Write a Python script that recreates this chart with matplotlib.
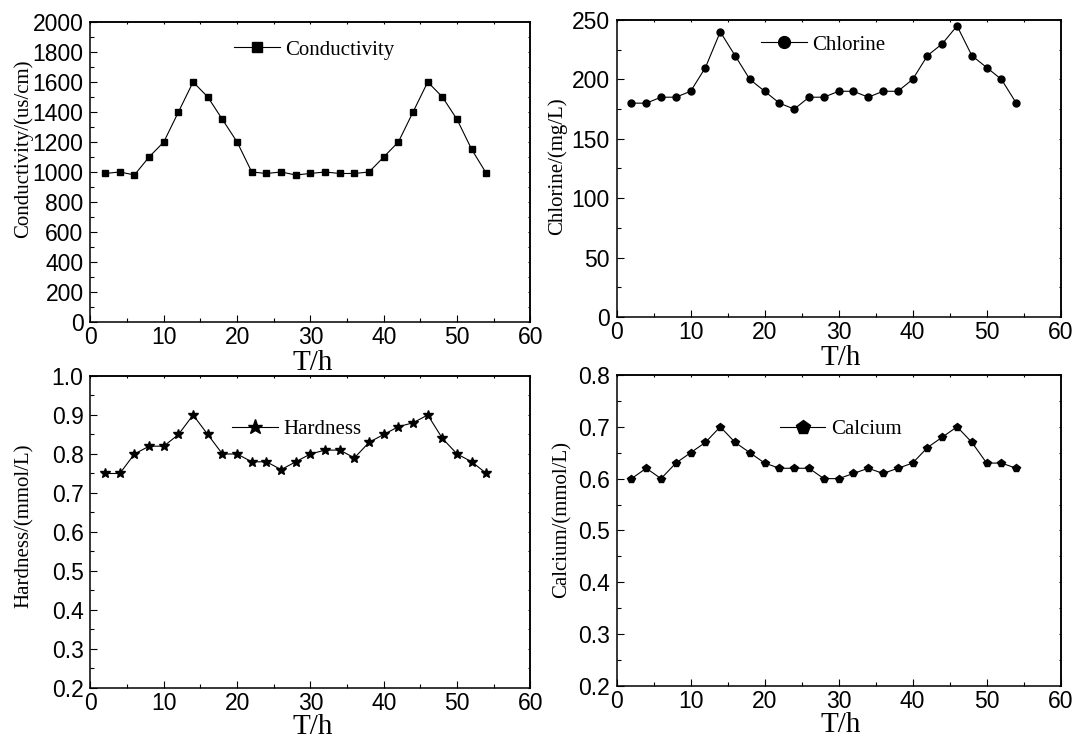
import matplotlib
matplotlib.use("Agg")
import matplotlib.pyplot as plt
from matplotlib.ticker import MultipleLocator

# Sampling times (hours)
hours = list(range(2, 56, 2))

conductivity = [990, 1000, 980, 1100, 1200, 1400, 1600, 1500, 1350, 1200,
                1000, 990, 1000, 980, 990, 1000, 990, 990, 1000, 1100,
                1200, 1400, 1600, 1500, 1350, 1150, 990]
chlorine = [180, 180, 185, 185, 190, 210, 240, 220, 200, 190,
            180, 175, 185, 185, 190, 190, 185, 190, 190, 200,
            220, 230, 245, 220, 210, 200, 180]
hardness = [0.75, 0.75, 0.80, 0.82, 0.82, 0.85, 0.90, 0.85, 0.80, 0.80,
            0.78, 0.78, 0.76, 0.78, 0.80, 0.81, 0.81, 0.79, 0.83, 0.85,
            0.87, 0.88, 0.90, 0.84, 0.80, 0.78, 0.75]
calcium = [0.60, 0.62, 0.60, 0.63, 0.65, 0.67, 0.70, 0.67, 0.65, 0.63,
           0.62, 0.62, 0.62, 0.60, 0.60, 0.61, 0.62, 0.61, 0.62, 0.63,
           0.66, 0.68, 0.70, 0.67, 0.63, 0.63, 0.62]

SANS = "Liberation Sans"
SERIF = "Liberation Serif"

fig = plt.figure(figsize=(10.73, 7.40), dpi=100)

panels = [
    dict(rect=[0.0843, 0.5649, 0.4100, 0.4054], y=conductivity, marker="s", ms=4.5,
         mscale=1.6, name="Conductivity", ylabel="Conductivity/(us/cm)",
         ylim=(0, 2000), major=200, minor=100, fmt="{:.0f}",
         leg=(0.327, 0.907), ylab_xy=(-0.153, 0.577), xlab_y=-0.094),
    dict(rect=[0.5747, 0.5716, 0.4138, 0.4014], y=chlorine, marker="o", ms=5,
         mscale=1.7, name="Chlorine", ylabel="Chlorine/(mg/L)",
         ylim=(0, 250), major=50, minor=25, fmt="{:.0f}",
         leg=(0.326, 0.916), ylab_xy=(-0.134, 0.508), xlab_y=-0.095),
    dict(rect=[0.0843, 0.0703, 0.4100, 0.4216], y=hardness, marker="*", ms=7,
         mscale=1.6, name="Hardness", ylabel="Hardness/(mmol/L)",
         ylim=(0.2, 1.0), major=0.1, minor=0.05, fmt="{:.1f}",
         leg=(0.3225, 0.830), ylab_xy=(-0.151, 0.519), xlab_y=-0.084),
    dict(rect=[0.5747, 0.0730, 0.4138, 0.4203], y=calcium, marker="p", ms=6,
         mscale=1.7, name="Calcium", ylabel="Calcium/(mmol/L)",
         ylim=(0.2, 0.8), major=0.1, minor=0.05, fmt="{:.1f}",
         leg=(0.367, 0.826), ylab_xy=(-0.124, 0.534), xlab_y=-0.084),
]

for p in panels:
    ax = fig.add_axes(p["rect"])
    ax.plot(hours, p["y"], color="black", lw=0.8, marker=p["marker"],
            ms=p["ms"], mfc="black", mec="black", label=p["name"])
    ax.set_xlim(0, 60)
    ax.set_ylim(*p["ylim"])
    ax.xaxis.set_major_locator(MultipleLocator(10))
    ax.xaxis.set_minor_locator(MultipleLocator(5))
    ax.yaxis.set_major_locator(MultipleLocator(p["major"]))
    ax.yaxis.set_minor_locator(MultipleLocator(p["minor"]))
    ax.tick_params(which="both", direction="in", width=0.8)
    ax.tick_params(which="major", length=5.2)
    ax.tick_params(which="minor", length=3)
    ax.tick_params(axis="x", which="major", pad=3)
    ax.tick_params(axis="y", which="major", pad=5)
    for s in ax.spines.values():
        s.set_linewidth(1.1)

    # short inward ticks along the top and right frame
    top = ax.secondary_xaxis("top")
    top.xaxis.set_major_locator(MultipleLocator(10))
    top.xaxis.set_minor_locator(MultipleLocator(5))
    top.tick_params(which="both", direction="in", length=1.6, width=0.8, labeltop=False)
    right = ax.secondary_yaxis("right")
    right.yaxis.set_major_locator(MultipleLocator(p["major"]))
    right.yaxis.set_minor_locator(MultipleLocator(p["minor"]))
    right.tick_params(which="both", direction="in", length=1.6, width=0.8, labelright=False)
    for sec in (top, right):
        for s in sec.spines.values():
            s.set_linewidth(1.1)

    xt = [t for t in ax.get_xticks() if 0 <= t <= 60]
    ax.set_xticks(xt)
    ax.set_xticklabels([f"{v:.0f}" for v in xt], fontfamily=SANS, fontsize=16.5)
    yt = [t for t in ax.get_yticks() if p["ylim"][0] - 1e-9 <= t <= p["ylim"][1] + 1e-9]
    ax.set_yticks(yt)
    ax.set_yticklabels([p["fmt"].format(v) for v in yt], fontfamily=SANS, fontsize=16.5)
    ax.set_xlim(0, 60)
    ax.set_ylim(*p["ylim"])

    ax.set_xlabel("T/h", fontfamily=SERIF, fontsize=21)
    ax.xaxis.set_label_coords(0.505, p["xlab_y"])
    ax.set_ylabel(p["ylabel"], fontfamily=SERIF, fontsize=15)
    ax.yaxis.set_label_coords(*p["ylab_xy"])
    ax.yaxis.label.set_verticalalignment("center")

    ax.legend(loc="center left", bbox_to_anchor=p["leg"], frameon=False,
              borderpad=0, borderaxespad=0, handlelength=2.2, handletextpad=0.25,
              markerscale=p["mscale"], prop={"family": SERIF, "size": 15})

fig.savefig("out.png", dpi=100)
